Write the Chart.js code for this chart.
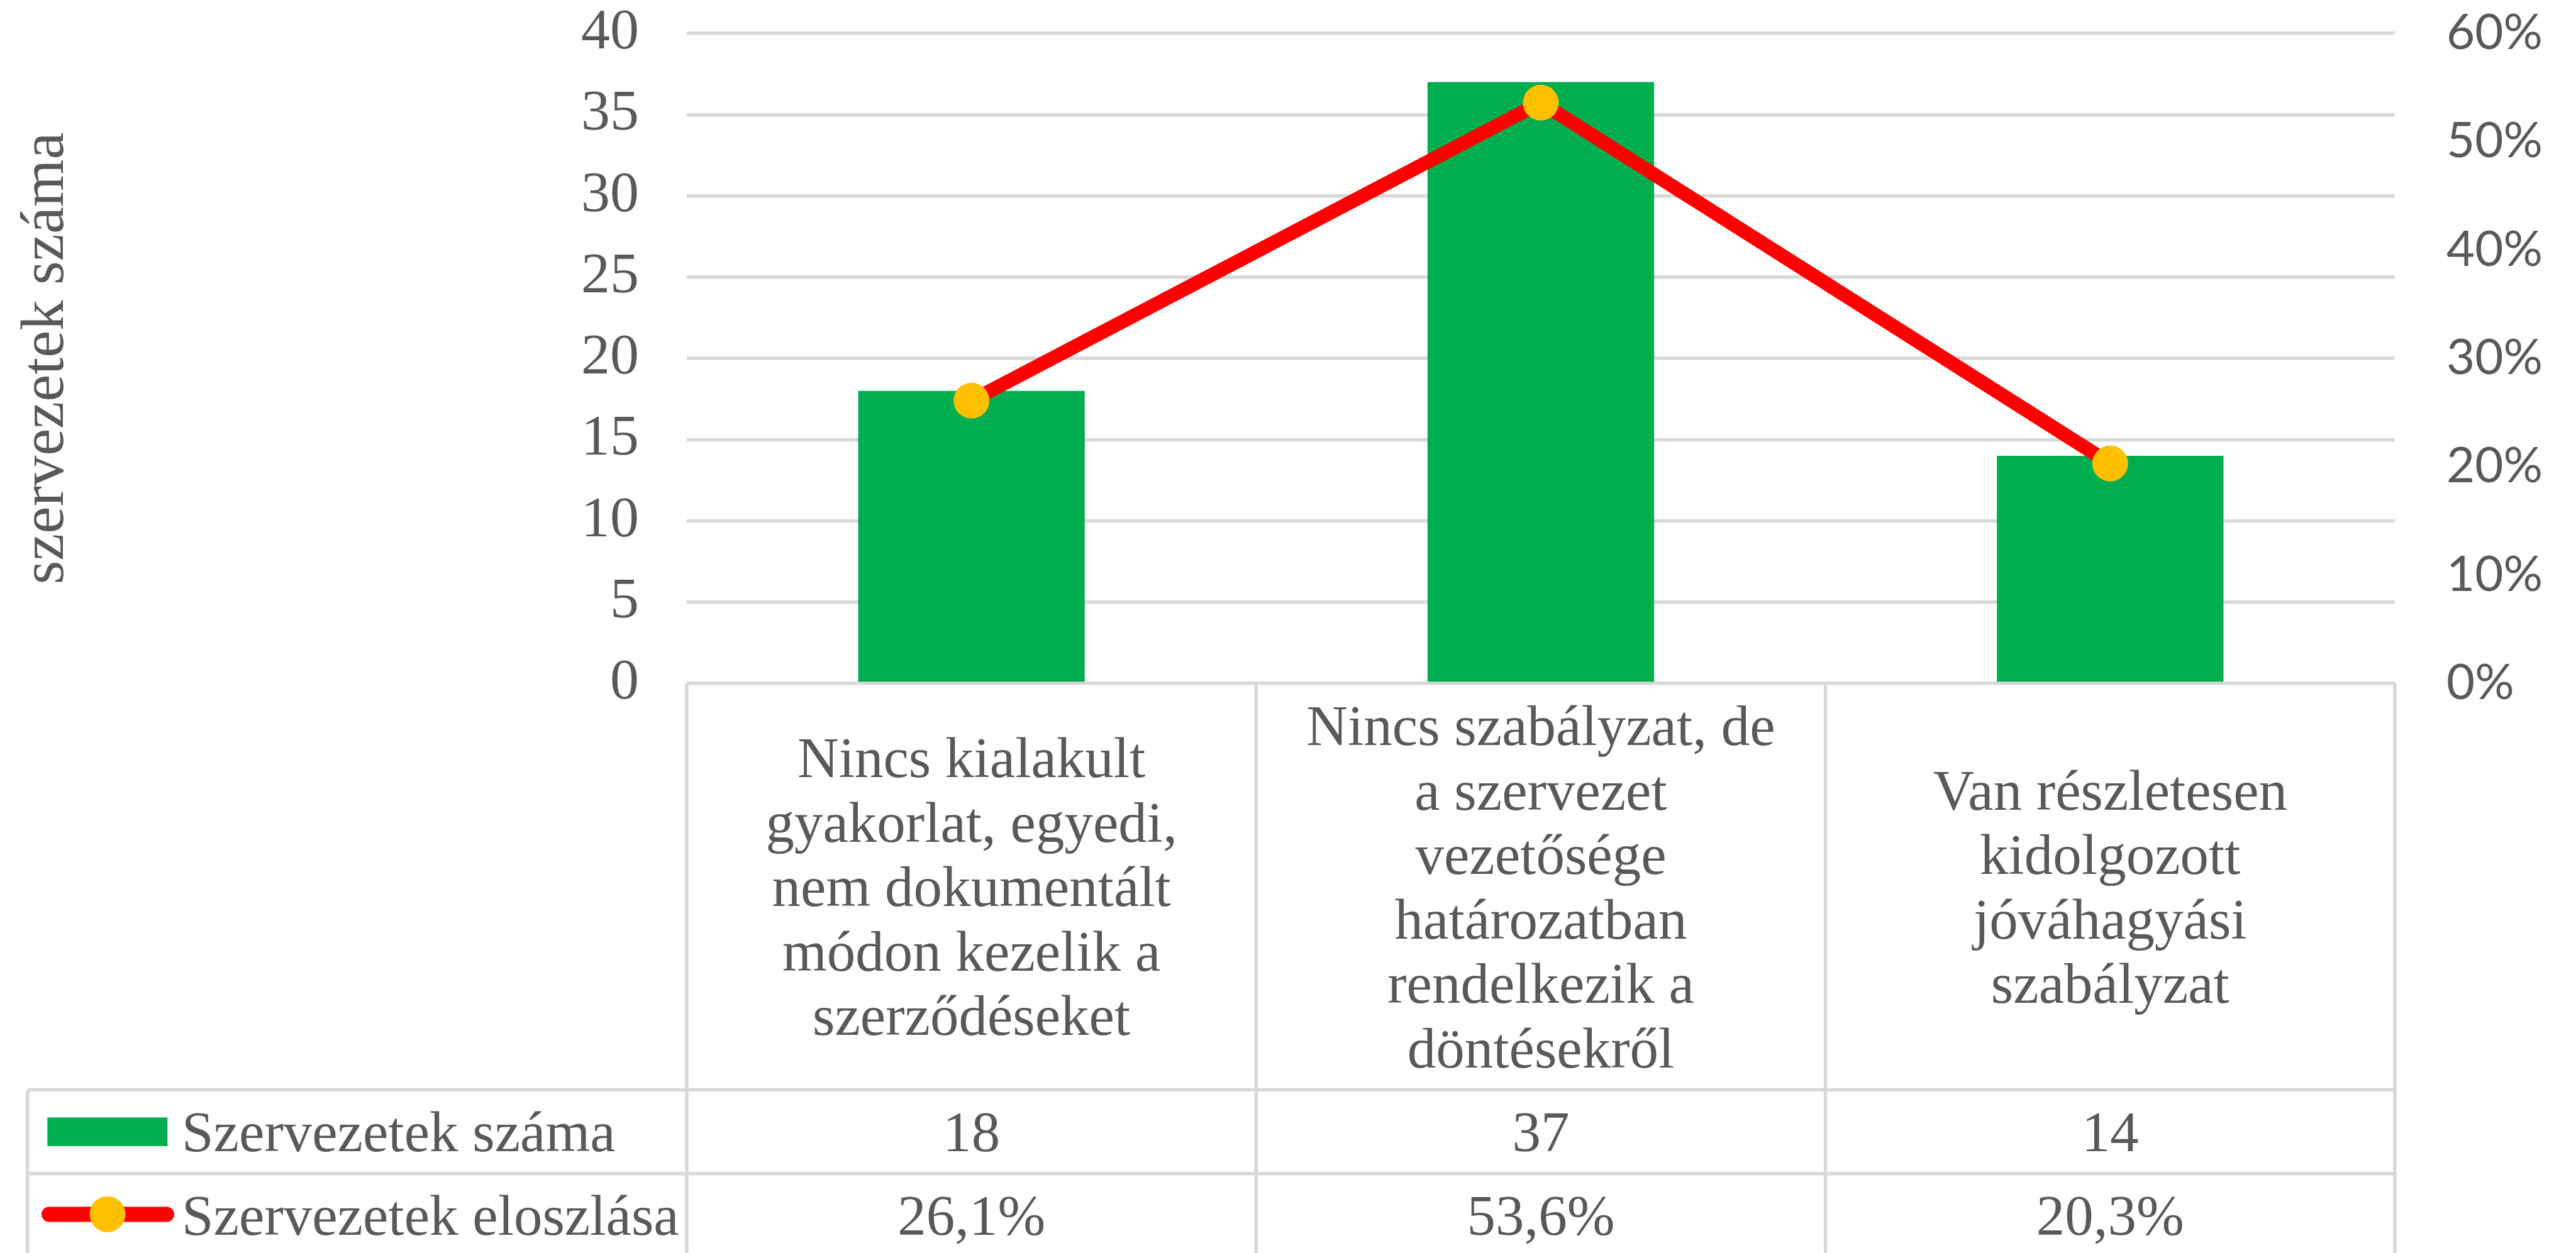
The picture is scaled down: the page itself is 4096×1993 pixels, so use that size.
<!DOCTYPE html>
<html><head><meta charset="utf-8">
<script src="https://cdn.jsdelivr.net/npm/chart.js@4.4.1/dist/chart.umd.min.js"></script>
<style>html,body{margin:0;padding:0;background:#fff;overflow:hidden}canvas{display:block}</style>
</head><body>
<canvas id="c" width="4096" height="1993" style="width:4096px;height:1993px"></canvas>
<script>
// ---- data ----
const categories = [
  ["Nincs kialakult", "gyakorlat, egyedi,", "nem dokumentált", "módon kezelik a", "szerződéseket"],
  ["Nincs szabályzat, de", "a szervezet", "vezetősége", "határozatban", "rendelkezik a", "döntésekről"],
  ["Van részletesen", "kidolgozott", "jóváhagyási", "szabályzat"]
];
const countSeriesName = "Szervezetek száma";
const shareSeriesName = "Szervezetek eloszlása";
const counts = [18, 37, 14];
const shares = [26.1, 53.6, 20.3];
const leftTicks = [0, 5, 10, 15, 20, 25, 30, 35, 40];
const rightTicks = [0, 10, 20, 30, 40, 50, 60];
const leftAxisTitle = "szervezetek száma";

// ---- style ----
const TXT = '#595959';
const GRID = '#D9D9D9';
const SERIF = '"Liberation Serif", "Times New Roman", serif';
const SANS = 'Lato, "Open Sans", sans-serif';
const GREEN = '#00AE50', RED = '#FF0000', GOLD = '#FFC000';
const LW = 5.5;
const BASE = 31; // baseline offset below a row's centre

const fmtShare = v => v.toFixed(1).replace('.', ',') + '%';

const tablePlugin = {
  id: 'dataTable',
  afterDraw(chart) {
    const ctx = chart.ctx, ca = chart.chartArea, xs = chart.scales.x;
    const n = chart.data.labels.length;
    const colW = (ca.right - ca.left) / n;
    const catRowBottom = ca.bottom + 646.6;
    const dataRowH = 133.2;
    const row2Bottom = catRowBottom + dataRowH;
    const tableBottom = row2Bottom + dataRowH;
    const legendLeft = 43.8;

    ctx.save();
    ctx.strokeStyle = GRID;
    ctx.lineWidth = LW;
    for (let i = 0; i <= n; i++) {
      const x = (i < n ? xs.getPixelForValue(i) - colW / 2 : xs.getPixelForValue(n - 1) + colW / 2);
      ctx.beginPath(); ctx.moveTo(x, ca.bottom); ctx.lineTo(x, tableBottom + 10); ctx.stroke();
    }
    [catRowBottom, row2Bottom].forEach(y => {
      ctx.beginPath(); ctx.moveTo(legendLeft, y); ctx.lineTo(ca.right, y); ctx.stroke();
    });
    ctx.beginPath(); ctx.moveTo(legendLeft, catRowBottom); ctx.lineTo(legendLeft, tableBottom + 10); ctx.stroke();

    // category labels
    ctx.fillStyle = TXT;
    ctx.textAlign = 'center';
    ctx.textBaseline = 'alphabetic';
    ctx.font = '91px ' + SERIF;
    const lineH = 102.5;
    const cy = (ca.bottom + catRowBottom) / 2;
    chart.data.labels.forEach((lines, i) => {
      const x = xs.getPixelForValue(i);
      lines.forEach((t, j) => {
        ctx.fillText(t, x, cy + BASE + (j - (lines.length - 1) / 2) * lineH);
      });
    });
    // data rows
    const r1 = catRowBottom + dataRowH / 2, r2 = row2Bottom + dataRowH / 2;
    chart.data.datasets.forEach(ds => {
      const y = (ds.type === 'bar' ? r1 : r2) + BASE;
      ds.data.forEach((v, i) => {
        ctx.fillText(ds.type === 'bar' ? String(v) : fmtShare(v), xs.getPixelForValue(i), y);
      });
    });
    // legend keys
    ctx.fillStyle = GREEN;
    ctx.fillRect(75.3, r1 - 22.8, 191, 45.6);
    ctx.strokeStyle = RED;
    ctx.lineWidth = 24;
    ctx.lineCap = 'round';
    ctx.beginPath(); ctx.moveTo(78, r2 - 2); ctx.lineTo(265, r2 - 2); ctx.stroke();
    ctx.fillStyle = GOLD;
    ctx.beginPath(); ctx.arc(171, r2 - 2, 28.5, 0, Math.PI * 2); ctx.fill();
    ctx.fillStyle = TXT;
    ctx.textAlign = 'left';
    ctx.fillText(countSeriesName, 289, r1 + BASE);
    ctx.fillText(shareSeriesName, 289, r2 + BASE);
    ctx.restore();
  }
};

new Chart(document.getElementById('c'), {
  data: {
    labels: categories,
    datasets: [
      {
        type: 'line', label: shareSeriesName, data: shares, yAxisID: 'y1', order: 0,
        borderColor: RED, borderWidth: 22, tension: 0, borderJoinStyle: 'round',
        pointRadius: 28.5, pointBackgroundColor: GOLD, pointBorderColor: GOLD, pointBorderWidth: 0,
        pointHoverRadius: 28.5, clip: false
      },
      {
        type: 'bar', label: countSeriesName, data: counts, yAxisID: 'y', order: 1,
        backgroundColor: GREEN, borderWidth: 0, barPercentage: 1, categoryPercentage: 0.398
      }
    ]
  },
  options: {
    responsive: false, animation: false, devicePixelRatio: 1,
    layout: { padding: { top: 53, bottom: 906, left: 0, right: 0 } },
    plugins: { legend: { display: false }, tooltip: { enabled: false } },
    scales: {
      x: { type: 'category', display: false, offset: true },
      y: {
        position: 'left', min: leftTicks[0], max: leftTicks[leftTicks.length - 1],
        afterBuildTicks: s => { s.ticks = leftTicks.map(v => ({ value: v })); },
        afterFit: s => { s.width = 1092; s.paddingTop = 0; s.paddingBottom = 0; },
        grid: { color: GRID, lineWidth: LW, drawTicks: false },
        border: { display: false },
        ticks: { color: TXT, padding: 76, font: { family: SERIF, size: 92 } },
        title: { display: true, text: leftAxisTitle, color: TXT, padding: { top: 16, bottom: 0 },
                 font: { family: SERIF, size: 97 } }
      },
      y1: {
        position: 'right', min: rightTicks[0], max: rightTicks[rightTicks.length - 1],
        afterBuildTicks: s => { s.ticks = rightTicks.map(v => ({ value: v })); },
        afterFit: s => { s.width = 288; s.paddingTop = 0; s.paddingBottom = 0; },
        grid: { display: false, drawTicks: false },
        border: { display: false },
        ticks: { color: TXT, padding: 82, font: { family: SANS, size: 78 }, callback: v => v + '%' }
      }
    }
  },
  plugins: [tablePlugin]
});
</script>
</body></html>
